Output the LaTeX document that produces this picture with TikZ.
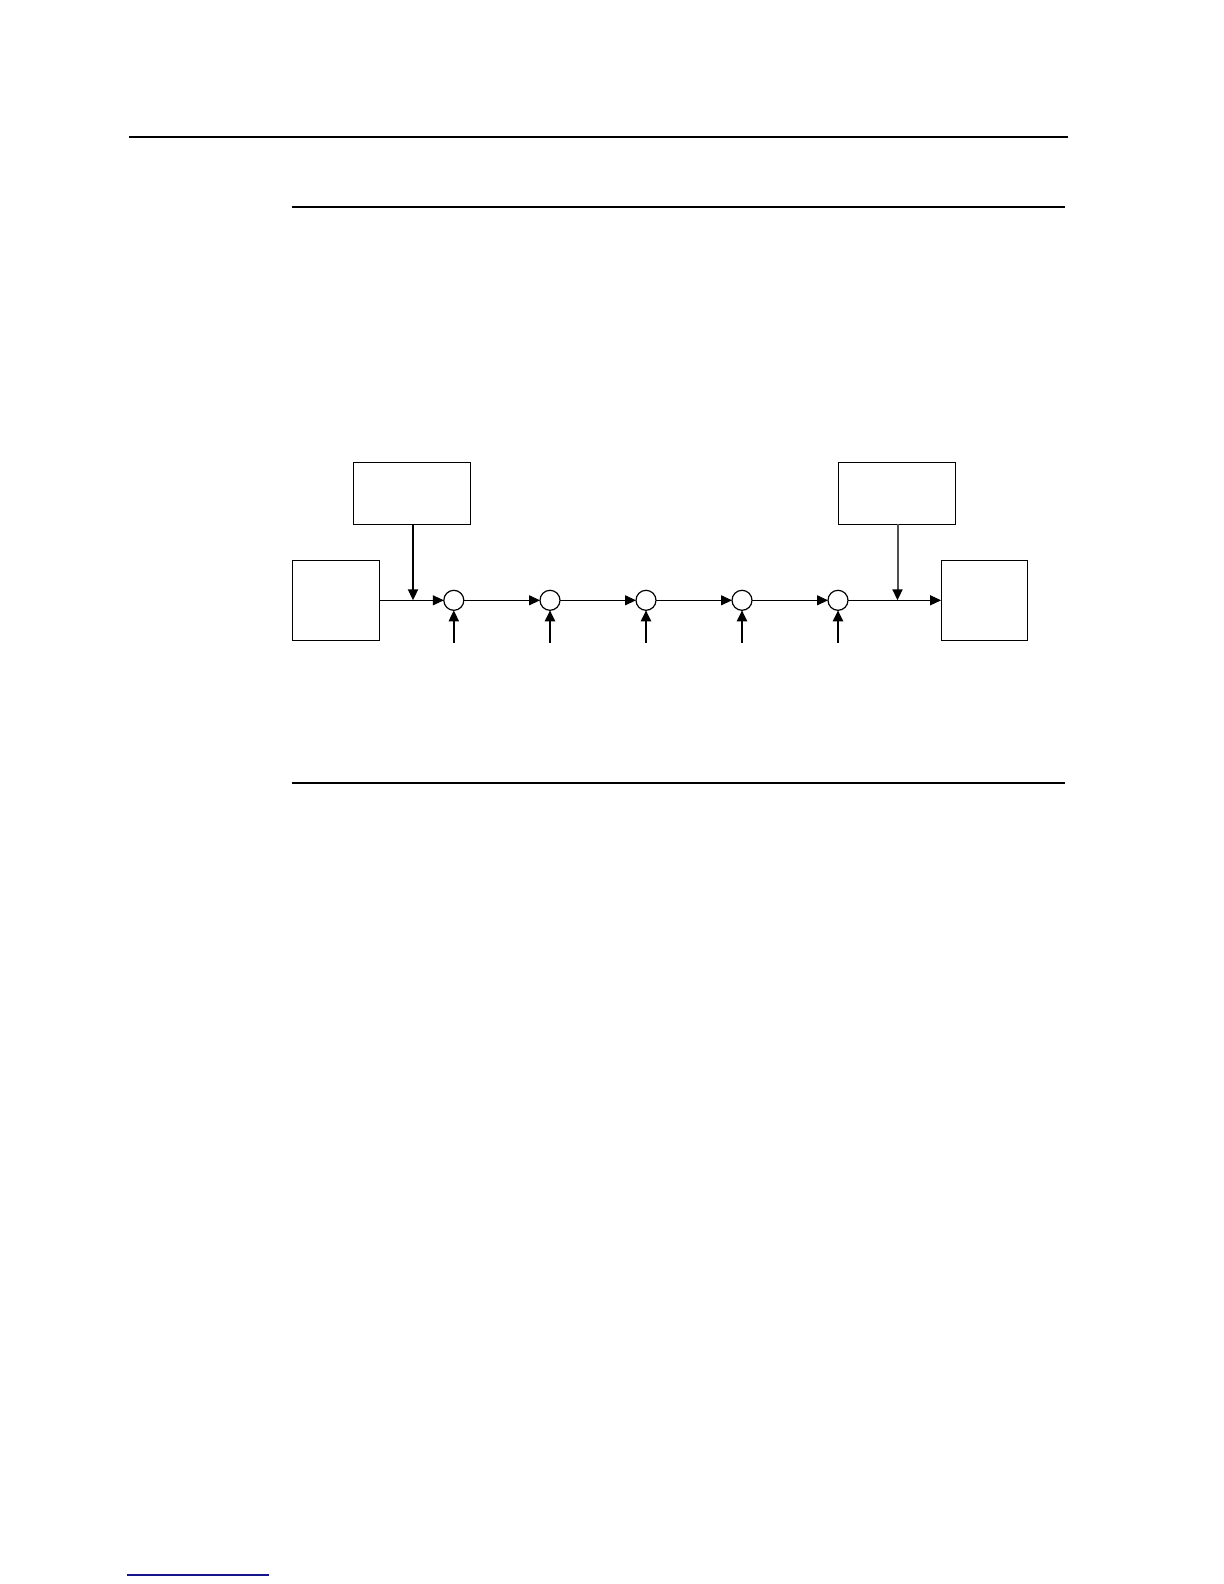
\documentclass[tikz,border=0pt]{standalone}
\usetikzlibrary{arrows.meta,calc}
\definecolor{linkblue}{RGB}{20,20,140}
\definecolor{feedgray}{RGB}{80,80,80}
\tikzset{
  x=0.5bp, y=-0.5bp,
  blockbox/.style={draw, line width=0.6bp, inner sep=0, outer sep=0, fill=white},
  junction/.style={draw, circle, line width=0.6bp, minimum size=10bp, inner sep=0, outer sep=0},
  flow/.style={line width=0.55bp, -{Triangle[length=5.5bp,width=5bp]}},
  feed/.style={line width=1bp, -{Triangle[length=5.5bp,width=5bp]}},
  grayfeed/.style={line width=1bp, feedgray, -{Triangle[length=5.5bp,width=5bp,color=black]}},
  rule/.style={line width=0.7bp},
}
\begin{document}
\begin{tikzpicture}
\useasboundingbox (0,0) rectangle (1224,1584);
% page rules
\coordinate (r1a) at (129,137); \coordinate (r1b) at (1068,137);
\coordinate (r2a) at (292,207); \coordinate (r2b) at (1065,207);
\coordinate (r3a) at (292,783); \coordinate (r3b) at (1065,783);
\draw[rule] (r1a) -- (r1b);
\draw[rule] (r2a) -- (r2b);
\draw[rule] (r3a) -- (r3b);
\coordinate (fa) at (127,1575); \coordinate (fb) at (269,1575);
\draw[linkblue, line width=0.8bp] (fa) -- (fb);
% blocks
\node[blockbox, minimum width=58.5bp, minimum height=31bp] (A) at (411.8,493.3) {};
\node[blockbox, minimum width=43.3bp, minimum height=40bp] (L) at (336,600.3) {};
\node[blockbox, minimum width=58.3bp, minimum height=31bp] (B) at (897,493.3) {};
\node[blockbox, minimum width=43.3bp, minimum height=40bp] (R) at (984.4,600.3) {};
% junctions
\node[junction] (c1) at (453.8,600.3) {};
\node[junction] (c2) at (550,600.3) {};
\node[junction] (c3) at (646,600.3) {};
\node[junction] (c4) at (742,600.3) {};
\node[junction] (c5) at (838,600.3) {};
% main flow
\coordinate (j1) at (413,600.3);
\coordinate (j2) at (897.5,600.3);
\draw[flow] (L.east) -- (c1.west);
\draw[flow] (c1.east) -- (c2.west);
\draw[flow] (c2.east) -- (c3.west);
\draw[flow] (c3.east) -- (c4.west);
\draw[flow] (c4.east) -- (c5.west);
\draw[flow] (c5.east) -- (R.west);
% feeds from top boxes
\draw[feed] (j1 |- A.south) -- (j1);
\draw[grayfeed] (j2 |- B.south) -- (j2);
% inputs from below
\foreach \i/\x in {1/453.8,2/550,3/646,4/742,5/838}{
  \coordinate (u\i) at (\x,642.7);
  \draw[feed] (u\i) -- (c\i.south);
}
\end{tikzpicture}
\end{document}
